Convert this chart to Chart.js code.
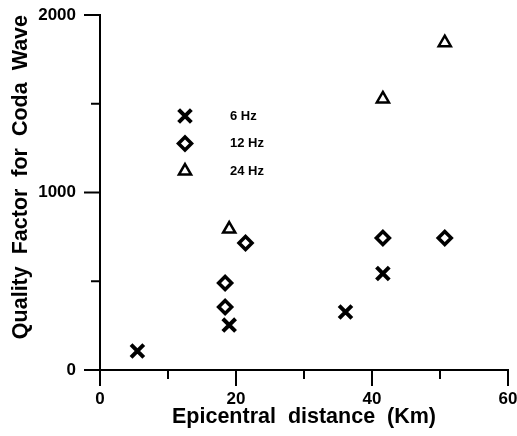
<!DOCTYPE html>
<html>
<head>
<meta charset="utf-8">
<script src="https://cdn.jsdelivr.net/npm/chart.js@4.4.1/dist/chart.umd.min.js"></script>
<style>
    html, body { margin: 0; padding: 0; background: #fff; }
    #box { width: 517px; height: 436px; position: relative; }
</style>
</head>
<body>
<div id="box"><canvas id="grafico"></canvas></div>
<script>
const seriesLabels = ['6 Hz', '12 Hz', '24 Hz'];

const distance6 = [5.5, 19.0, 36.1, 41.6];
const q6 = [107, 253, 327, 544];

const distance12 = [18.4, 18.4, 21.4, 41.6, 50.7];
const q12 = [490, 355, 715, 744, 744];

const distance24 = [19.0, 41.6, 50.7];
const q24 = [794, 1527, 1844];

const xMajorTicks = [0, 20, 40, 60];
const xMinorTicks = [10, 30, 50];
const yMajorTicks = [0, 1000, 2000];
const yMinorTicks = [500, 1500];

const fonte = 'Liberation Sans, Arial, sans-serif';

function pontos(xs, ys) {
    return xs.map((x, i) => ({ x: x, y: ys[i] }));
}

const estilos = [
    { pointStyle: 'crossRot', radius: 9, borderWidth: 4 },
    { pointStyle: 'rectRot', radius: 6.5, borderWidth: 3.5 },
    { pointStyle: 'triangle', radius: 7, borderWidth: 2.5 }
];

const datasets = [
    pontos(distance6, q6),
    pontos(distance12, q12),
    pontos(distance24, q24)
].map((data, i) => ({
    label: seriesLabels[i],
    data: data,
    pointStyle: estilos[i].pointStyle,
    pointRadius: estilos[i].radius,
    pointHoverRadius: estilos[i].radius,
    pointBorderWidth: estilos[i].borderWidth,
    pointBorderColor: '#000',
    pointBackgroundColor: '#fff',
    showLine: false
}));

// marcas dos eixos (maiores e menores) desenhadas a partir das escalas
const marcasEixos = {
    id: 'marcasEixos',
    afterDraw(chart) {
        const ctx = chart.ctx;
        const sx = chart.scales.x, sy = chart.scales.y;
        const base = sy.getPixelForValue(0);
        const esq = sx.getPixelForValue(0);
        ctx.save();
        ctx.strokeStyle = '#000';
        ctx.lineWidth = 2;
        ctx.beginPath();
        xMajorTicks.forEach(v => { const p = sx.getPixelForValue(v); ctx.moveTo(p, base); ctx.lineTo(p, base + 16); });
        xMinorTicks.forEach(v => { const p = sx.getPixelForValue(v); ctx.moveTo(p, base - 1); ctx.lineTo(p, base + 9); });
        yMajorTicks.forEach(v => { const p = sy.getPixelForValue(v); ctx.moveTo(esq, p); ctx.lineTo(esq - 16, p); });
        yMinorTicks.forEach(v => { const p = sy.getPixelForValue(v); ctx.moveTo(esq, p); ctx.lineTo(esq - 9, p); });
        ctx.stroke();
        ctx.restore();
    }
};

// legenda dentro da area do grafico
const legendaInterna = {
    id: 'legendaInterna',
    afterDatasetsDraw(chart) {
        const ctx = chart.ctx;
        ctx.save();
        chart.data.datasets.forEach((ds, i) => {
            const y = 116 + i * 27.5;
            ctx.strokeStyle = '#000';
            ctx.fillStyle = '#fff';
            ctx.lineWidth = ds.pointBorderWidth;
            Chart.helpers.drawPoint(ctx, {
                pointStyle: ds.pointStyle,
                radius: ds.pointRadius,
                borderWidth: ds.pointBorderWidth,
                rotation: 0
            }, 185, y);
            ctx.fillStyle = '#000';
            ctx.font = 'bold 13px ' + fonte;
            ctx.textAlign = 'left';
            ctx.textBaseline = 'middle';
            ctx.fillText(ds.label, 230, y);
        });
        ctx.restore();
    }
};

function semPadding(s) {
    s.paddingTop = 0;
    s.paddingBottom = 0;
    s.paddingLeft = 0;
    s.paddingRight = 0;
}

new Chart(document.getElementById('grafico').getContext('2d'), {
    type: 'scatter',
    data: { datasets },
    plugins: [marcasEixos, legendaInterna],
    options: {
        responsive: true,
        maintainAspectRatio: false,
        animation: false,
        layout: { autoPadding: false, padding: { top: 15, right: 9, left: 0, bottom: 0 } },
        plugins: {
            legend: { display: false },
            tooltip: { enabled: false }
        },
        scales: {
            x: {
                type: 'linear',
                min: 0,
                max: 60,
                afterFit: s => { s.height = 66; semPadding(s); },
                afterBuildTicks: s => { s.ticks = xMajorTicks.map(v => ({ value: v })); },
                grid: { display: false, drawTicks: false },
                border: { display: true, color: '#000', width: 2 },
                ticks: {
                    color: '#000',
                    padding: 19,
                    callback: v => String(v),
                    font: { family: fonte, size: 17, weight: 'bold' }
                },
                title: {
                    display: true,
                    text: 'Epicentral  distance  (Km)',
                    color: '#000',
                    padding: { top: 0, bottom: 6 },
                    font: { family: fonte, size: 21.5, weight: 'bold' }
                }
            },
            y: {
                type: 'linear',
                min: 0,
                max: 2000,
                afterFit: s => { s.width = 100; semPadding(s); },
                afterBuildTicks: s => { s.ticks = yMajorTicks.map(v => ({ value: v })); },
                grid: { display: false, drawTicks: false },
                border: { display: true, color: '#000', width: 2 },
                ticks: {
                    color: '#000',
                    padding: 24,
                    callback: v => String(v),
                    font: { family: fonte, size: 17, weight: 'bold' }
                },
                title: {
                    display: true,
                    text: 'Quality  Factor  for  Coda  Wave',
                    color: '#000',
                    align: 'end',
                    padding: { top: 8, bottom: 0 },
                    font: { family: fonte, size: 21.5, weight: 'bold' }
                }
            }
        }
    }
});
</script>
</body>
</html>
